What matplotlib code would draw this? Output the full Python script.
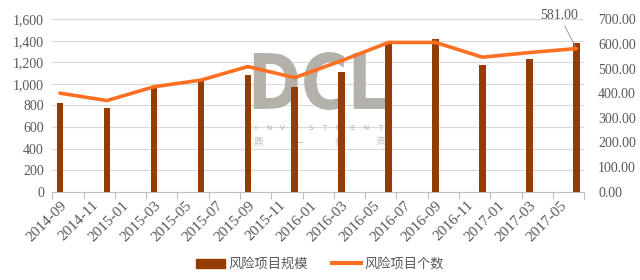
import matplotlib
matplotlib.use("Agg")
import numpy as np
import matplotlib.pyplot as plt
import matplotlib.transforms as mtransforms
from matplotlib.ticker import FixedLocator, FuncFormatter
from matplotlib.patches import Patch, PathPatch
from matplotlib.lines import Line2D
from matplotlib.textpath import TextPath
from matplotlib.font_manager import FontProperties

# 季度数据
periods = ['2014-09', '2014-12', '2015-03', '2015-06', '2015-09', '2015-12',
           '2016-03', '2016-06', '2016-09', '2016-12', '2017-03', '2017-06']
scale_vals = [820, 780, 968, 1037, 1086, 972, 1114, 1383, 1417, 1173, 1229, 1383]  # 风险项目规模
count_vals = [400, 370, 426, 453, 508, 463, 532, 606, 606, 546, 565, 581]  # 风险项目个数
tick_labels = ['2014-09', '2014-11', '2015-01', '2015-03', '2015-05', '2015-07',
               '2015-09', '2015-11', '2016-01', '2016-03', '2016-05', '2016-07',
               '2016-09', '2016-11', '2017-01', '2017-03', '2017-05']

bar_color = '#943c03'
line_color = '#fd6f21'
grey = '#595959'
wm_color = '#b4b0aa'

plt.rcParams['font.family'] = ['Liberation Serif', 'Noto Sans CJK SC']


def month_idx(s):
    y, m = s.split('-')
    return (int(y) - 2014) * 12 + int(m) - 9


x = [month_idx(p) for p in periods]
lx = [month_idx(t) for t in tick_labels]

fig = plt.figure(figsize=(6.4, 2.8), dpi=100)
ax = fig.add_axes([0.0816, 0.3154, 0.8312, 0.6157])

ax.bar(x, scale_vals, width=0.42, color=bar_color, zorder=3)
ax.set_ylim(0, 1600)
ax.set_xlim(-0.5, 33.5)
ax.set_yticks(range(0, 1601, 200))
ax.yaxis.set_major_formatter(FuncFormatter(lambda v, p: f'{int(v):,}'))
ax.grid(axis='y', color='#d9d9d9', lw=0.8, zorder=0)
ax.set_axisbelow(True)

# x轴: 标签在月份中心, 刻度线在间隔处
ax.xaxis.set_major_locator(FixedLocator(lx))
ax.set_xticklabels(tick_labels, rotation=45, ha='right', va='top',
                   rotation_mode='anchor', fontsize=11, color=grey)
shift = mtransforms.ScaledTranslation(4 / 72, -1 / 72, fig.dpi_scale_trans)
for lab in ax.get_xticklabels():
    lab.set_transform(lab.get_transform() + shift)
ax.xaxis.set_minor_locator(FixedLocator([-0.5 + 2 * i for i in range(18)]))
ax.tick_params(axis='x', which='major', length=0, pad=5)
ax.tick_params(axis='x', which='minor', length=5, color='#bfbfbf', width=0.8)
ax.tick_params(axis='y', length=0, labelsize=10, labelcolor=grey, pad=6)

for s in ['top', 'right', 'left']:
    ax.spines[s].set_visible(False)
ax.spines['bottom'].set_color('#bfbfbf')

# 水印 DCL
tp = TextPath((0, 0), 'DCL', size=1, prop=FontProperties(family='DejaVu Sans', weight='bold'))
bb = tp.get_extents()
wm_x0, wm_y0, wm_w, wm_h = 0.379, 0.474, 0.25, 0.336
tr = (mtransforms.Affine2D().translate(-bb.x0, -bb.y0)
      .scale(wm_w / bb.width, wm_h / bb.height).translate(wm_x0, wm_y0) + ax.transAxes)
ax.add_patch(PathPatch(tp, transform=tr, color=wm_color, lw=0, zorder=2))
for i, ch in enumerate('INVESTMENT'):
    ax.text(0.381 + i * 0.0262, 0.37, ch, transform=ax.transAxes, fontsize=5, color=wm_color,
            family='DejaVu Sans', ha='center', va='center', zorder=2)
for xc, ch in zip(np.linspace(0.387, 0.616, 4), '鼎一投资'):
    ax.text(xc, 0.29, ch, transform=ax.transAxes, fontsize=7, color='#c6c2bd',
            family='Noto Sans CJK SC', ha='center', va='center', zorder=2)

ax2 = ax.twinx()
ax2.plot(x, count_vals, color=line_color, lw=2.6, solid_capstyle='round', zorder=4)
ax2.set_ylim(0, 700)
ax2.set_yticks(range(0, 701, 100))
ax2.yaxis.set_major_formatter(FuncFormatter(lambda v, p: f'{v:.2f}'))
ax2.tick_params(axis='y', length=0, labelsize=10, labelcolor=grey, pad=10)
for s in ['top', 'right', 'left', 'bottom']:
    ax2.spines[s].set_visible(False)

ax2.annotate(f'{count_vals[-1]:.2f}', xy=(x[-1], count_vals[-1]), xytext=(31.9, 717),
             ha='center', va='center', fontsize=10, color=grey, annotation_clip=False,
             arrowprops=dict(arrowstyle='-', color='#8c8c8c', lw=0.6, shrinkA=1, shrinkB=0))

handles = [Patch(color=bar_color), Line2D([], [], color=line_color, lw=3)]
fig.legend(handles, ['风险项目规模', '风险项目个数'], loc='center', bbox_to_anchor=(0.5, 0.055),
           ncol=2, frameon=False, handlelength=2.2, handletextpad=0.3, columnspacing=1.8,
           prop={'family': 'Noto Sans CJK SC', 'size': 9.5}, labelcolor=grey)

fig.savefig('out.png', dpi=100)
